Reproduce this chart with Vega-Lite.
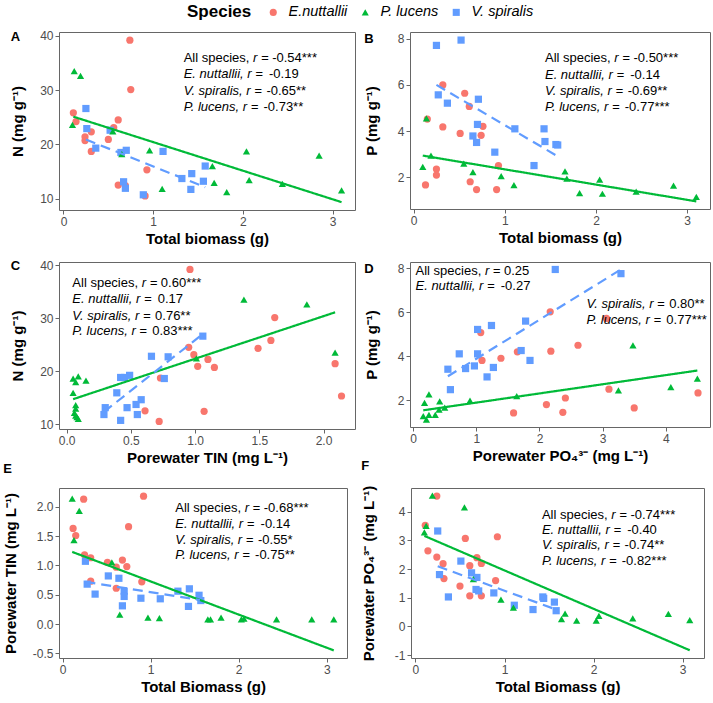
{
"$schema": "https://vega.github.io/schema/vega-lite/v6.json",
"background": "white",
"padding": {"left": 2, "top": 5, "right": 3, "bottom": 5},
"config": {
  "font": "Liberation Sans",
  "locale": {"number": {"decimal": ".", "thousands": ",", "grouping": [3], "currency": ["$", ""], "minus": "-"}},
  "view": {"stroke": "#666666", "strokeWidth": 1},
  "axis": {"grid": false, "domain": false, "tickColor": "#666666", "tickSize": 4, "tickWidth": 1, "labelColor": "#4d4d4d", "labelFontSize": 12, "labelPadding": 2, "labelFlush": false, "labelOverlap": false, "titleFontSize": 15, "titleFontWeight": "bold", "titleColor": "#000000"},
  "axisX": {"titlePadding": 4},
  "axisY": {"titlePadding": 14, "labelOverlap": false},
  "title": {"fontSize": 13, "fontWeight": "bold", "color": "#000000", "anchor": "start", "frame": "bounds"}
},
"datasets": {
"pts": [
{"p":"A","s":"E.nuttallii","x":0.74,"y":39.2},{"p":"A","s":"E.nuttallii","x":0.75,"y":30.1},{"p":"A","s":"E.nuttallii","x":0.11,"y":25.8},{"p":"A","s":"E.nuttallii","x":0.14,"y":24.2},{"p":"A","s":"E.nuttallii","x":0.61,"y":24.5},{"p":"A","s":"E.nuttallii","x":0.56,"y":23.1},{"p":"A","s":"E.nuttallii","x":0.31,"y":22.3},{"p":"A","s":"E.nuttallii","x":0.24,"y":21.4},{"p":"A","s":"E.nuttallii","x":0.24,"y":20.7},{"p":"A","s":"E.nuttallii","x":0.5,"y":20.9},{"p":"A","s":"E.nuttallii","x":0.31,"y":18.7},{"p":"A","s":"E.nuttallii","x":0.93,"y":15.3},{"p":"A","s":"E.nuttallii","x":0.61,"y":12.5},{"p":"A","s":"E.nuttallii","x":0.69,"y":12.4},{"p":"A","s":"E.nuttallii","x":0.91,"y":10.5},
{"p":"A","s":"V. spiralis","x":0.25,"y":26.6},{"p":"A","s":"V. spiralis","x":0.26,"y":22.9},{"p":"A","s":"V. spiralis","x":0.52,"y":22.6},{"p":"A","s":"V. spiralis","x":0.36,"y":19.3},{"p":"A","s":"V. spiralis","x":0.64,"y":18.5},{"p":"A","s":"V. spiralis","x":0.7,"y":18.9},{"p":"A","s":"V. spiralis","x":0.67,"y":13.1},{"p":"A","s":"V. spiralis","x":0.69,"y":11.9},{"p":"A","s":"V. spiralis","x":0.89,"y":10.7},{"p":"A","s":"V. spiralis","x":1.11,"y":18.7},{"p":"A","s":"V. spiralis","x":1.32,"y":13.7},{"p":"A","s":"V. spiralis","x":1.43,"y":14.6},{"p":"A","s":"V. spiralis","x":1.42,"y":11.7},{"p":"A","s":"V. spiralis","x":1.58,"y":16.0},{"p":"A","s":"V. spiralis","x":1.56,"y":13.2},
{"p":"A","s":"P. lucens","x":0.12,"y":33.5},{"p":"A","s":"P. lucens","x":0.19,"y":32.6},{"p":"A","s":"P. lucens","x":0.1,"y":23.6},{"p":"A","s":"P. lucens","x":0.55,"y":22.4},{"p":"A","s":"P. lucens","x":0.65,"y":18.2},{"p":"A","s":"P. lucens","x":0.96,"y":18.9},{"p":"A","s":"P. lucens","x":1.1,"y":11.8},{"p":"A","s":"P. lucens","x":1.66,"y":16.0},{"p":"A","s":"P. lucens","x":1.68,"y":12.9},{"p":"A","s":"P. lucens","x":1.82,"y":11.2},{"p":"A","s":"P. lucens","x":2.04,"y":18.7},{"p":"A","s":"P. lucens","x":2.07,"y":13.4},{"p":"A","s":"P. lucens","x":2.44,"y":12.7},{"p":"A","s":"P. lucens","x":2.85,"y":17.9},{"p":"A","s":"P. lucens","x":3.1,"y":11.5},
{"p":"B","s":"E.nuttallii","x":0.15,"y":4.52},{"p":"B","s":"E.nuttallii","x":0.32,"y":6.0},{"p":"B","s":"E.nuttallii","x":0.32,"y":4.18},{"p":"B","s":"E.nuttallii","x":0.56,"y":5.64},{"p":"B","s":"E.nuttallii","x":0.61,"y":5.07},{"p":"B","s":"E.nuttallii","x":0.51,"y":3.9},{"p":"B","s":"E.nuttallii","x":0.76,"y":4.21},{"p":"B","s":"E.nuttallii","x":0.74,"y":3.82},{"p":"B","s":"E.nuttallii","x":0.25,"y":2.36},{"p":"B","s":"E.nuttallii","x":0.25,"y":2.1},{"p":"B","s":"E.nuttallii","x":0.13,"y":1.67},{"p":"B","s":"E.nuttallii","x":0.62,"y":1.81},{"p":"B","s":"E.nuttallii","x":0.69,"y":1.47},{"p":"B","s":"E.nuttallii","x":0.91,"y":1.47},{"p":"B","s":"E.nuttallii","x":0.93,"y":2.51},
{"p":"B","s":"V. spiralis","x":0.25,"y":7.71},{"p":"B","s":"V. spiralis","x":0.52,"y":7.94},{"p":"B","s":"V. spiralis","x":0.27,"y":5.57},{"p":"B","s":"V. spiralis","x":0.37,"y":5.21},{"p":"B","s":"V. spiralis","x":0.71,"y":5.38},{"p":"B","s":"V. spiralis","x":0.7,"y":4.29},{"p":"B","s":"V. spiralis","x":0.65,"y":3.79},{"p":"B","s":"V. spiralis","x":0.69,"y":3.51},{"p":"B","s":"V. spiralis","x":0.89,"y":3.09},{"p":"B","s":"V. spiralis","x":1.11,"y":4.1},{"p":"B","s":"V. spiralis","x":1.43,"y":4.1},{"p":"B","s":"V. spiralis","x":1.44,"y":3.55},{"p":"B","s":"V. spiralis","x":1.56,"y":3.42},{"p":"B","s":"V. spiralis","x":1.58,"y":3.4},{"p":"B","s":"V. spiralis","x":1.32,"y":2.51},
{"p":"B","s":"P. lucens","x":0.14,"y":4.55},{"p":"B","s":"P. lucens","x":0.1,"y":2.45},{"p":"B","s":"P. lucens","x":0.19,"y":2.94},{"p":"B","s":"P. lucens","x":0.55,"y":2.59},{"p":"B","s":"P. lucens","x":0.65,"y":2.23},{"p":"B","s":"P. lucens","x":0.96,"y":2.05},{"p":"B","s":"P. lucens","x":1.1,"y":1.66},{"p":"B","s":"P. lucens","x":1.66,"y":2.26},{"p":"B","s":"P. lucens","x":1.68,"y":1.94},{"p":"B","s":"P. lucens","x":1.82,"y":1.32},{"p":"B","s":"P. lucens","x":2.04,"y":1.9},{"p":"B","s":"P. lucens","x":2.07,"y":1.29},{"p":"B","s":"P. lucens","x":2.44,"y":1.38},{"p":"B","s":"P. lucens","x":2.85,"y":1.64},{"p":"B","s":"P. lucens","x":3.1,"y":1.15},
{"p":"C","s":"E.nuttallii","x":0.96,"y":39.2},{"p":"C","s":"E.nuttallii","x":1.62,"y":30.1},{"p":"C","s":"E.nuttallii","x":1.59,"y":25.8},{"p":"C","s":"E.nuttallii","x":1.49,"y":24.3},{"p":"C","s":"E.nuttallii","x":0.95,"y":24.5},{"p":"C","s":"E.nuttallii","x":0.99,"y":23.1},{"p":"C","s":"E.nuttallii","x":1.1,"y":22.2},{"p":"C","s":"E.nuttallii","x":1.02,"y":20.9},{"p":"C","s":"E.nuttallii","x":1.15,"y":20.7},{"p":"C","s":"E.nuttallii","x":0.73,"y":18.7},{"p":"C","s":"E.nuttallii","x":2.09,"y":21.4},{"p":"C","s":"E.nuttallii","x":2.14,"y":15.3},{"p":"C","s":"E.nuttallii","x":0.61,"y":12.5},{"p":"C","s":"E.nuttallii","x":1.07,"y":12.4},{"p":"C","s":"E.nuttallii","x":0.72,"y":10.5},
{"p":"C","s":"V. spiralis","x":1.06,"y":26.6},{"p":"C","s":"V. spiralis","x":0.66,"y":22.8},{"p":"C","s":"V. spiralis","x":0.79,"y":22.7},{"p":"C","s":"V. spiralis","x":0.42,"y":18.8},{"p":"C","s":"V. spiralis","x":0.45,"y":18.8},{"p":"C","s":"V. spiralis","x":0.49,"y":19.2},{"p":"C","s":"V. spiralis","x":0.76,"y":18.6},{"p":"C","s":"V. spiralis","x":0.39,"y":15.9},{"p":"C","s":"V. spiralis","x":0.58,"y":14.6},{"p":"C","s":"V. spiralis","x":0.54,"y":13.7},{"p":"C","s":"V. spiralis","x":0.47,"y":13.1},{"p":"C","s":"V. spiralis","x":0.3,"y":13.1},{"p":"C","s":"V. spiralis","x":0.29,"y":11.8},{"p":"C","s":"V. spiralis","x":0.55,"y":11.8},{"p":"C","s":"V. spiralis","x":0.42,"y":10.7},
{"p":"C","s":"P. lucens","x":1.38,"y":33.5},{"p":"C","s":"P. lucens","x":1.87,"y":32.6},{"p":"C","s":"P. lucens","x":2.09,"y":23.5},{"p":"C","s":"P. lucens","x":1.01,"y":22.4},{"p":"C","s":"P. lucens","x":0.05,"y":18.6},{"p":"C","s":"P. lucens","x":0.09,"y":19.0},{"p":"C","s":"P. lucens","x":0.07,"y":17.9},{"p":"C","s":"P. lucens","x":0.15,"y":18.2},{"p":"C","s":"P. lucens","x":0.05,"y":15.9},{"p":"C","s":"P. lucens","x":0.07,"y":13.6},{"p":"C","s":"P. lucens","x":0.07,"y":12.9},{"p":"C","s":"P. lucens","x":0.06,"y":12.1},{"p":"C","s":"P. lucens","x":0.07,"y":11.6},{"p":"C","s":"P. lucens","x":0.08,"y":11.3},{"p":"C","s":"P. lucens","x":0.09,"y":11.0},
{"p":"D","s":"E.nuttallii","x":2.17,"y":6.02},{"p":"D","s":"E.nuttallii","x":3.06,"y":5.72},{"p":"D","s":"E.nuttallii","x":1.07,"y":5.08},{"p":"D","s":"E.nuttallii","x":2.18,"y":4.23},{"p":"D","s":"E.nuttallii","x":2.61,"y":4.5},{"p":"D","s":"E.nuttallii","x":1.65,"y":4.2},{"p":"D","s":"E.nuttallii","x":1.39,"y":3.91},{"p":"D","s":"E.nuttallii","x":1.09,"y":3.81},{"p":"D","s":"E.nuttallii","x":3.1,"y":2.5},{"p":"D","s":"E.nuttallii","x":4.51,"y":2.33},{"p":"D","s":"E.nuttallii","x":2.11,"y":1.8},{"p":"D","s":"E.nuttallii","x":2.41,"y":2.1},{"p":"D","s":"E.nuttallii","x":2.37,"y":1.45},{"p":"D","s":"E.nuttallii","x":1.59,"y":1.42},{"p":"D","s":"E.nuttallii","x":3.5,"y":1.65},
{"p":"D","s":"V. spiralis","x":2.25,"y":7.95},{"p":"D","s":"V. spiralis","x":3.29,"y":7.76},{"p":"D","s":"V. spiralis","x":1.78,"y":5.6},{"p":"D","s":"V. spiralis","x":1.24,"y":5.4},{"p":"D","s":"V. spiralis","x":1.02,"y":5.22},{"p":"D","s":"V. spiralis","x":1.71,"y":4.26},{"p":"D","s":"V. spiralis","x":1.85,"y":3.81},{"p":"D","s":"V. spiralis","x":0.73,"y":4.11},{"p":"D","s":"V. spiralis","x":1.02,"y":4.11},{"p":"D","s":"V. spiralis","x":0.55,"y":3.41},{"p":"D","s":"V. spiralis","x":0.83,"y":3.44},{"p":"D","s":"V. spiralis","x":0.97,"y":3.56},{"p":"D","s":"V. spiralis","x":1.27,"y":3.49},{"p":"D","s":"V. spiralis","x":1.17,"y":3.06},{"p":"D","s":"V. spiralis","x":0.59,"y":2.48},
{"p":"D","s":"P. lucens","x":3.48,"y":4.5},{"p":"D","s":"P. lucens","x":4.08,"y":2.59},{"p":"D","s":"P. lucens","x":4.5,"y":2.98},{"p":"D","s":"P. lucens","x":3.25,"y":2.45},{"p":"D","s":"P. lucens","x":1.64,"y":2.18},{"p":"D","s":"P. lucens","x":0.9,"y":1.98},{"p":"D","s":"P. lucens","x":0.5,"y":1.66},{"p":"D","s":"P. lucens","x":0.25,"y":2.26},{"p":"D","s":"P. lucens","x":0.18,"y":1.88},{"p":"D","s":"P. lucens","x":0.42,"y":1.95},{"p":"D","s":"P. lucens","x":0.41,"y":1.57},{"p":"D","s":"P. lucens","x":0.35,"y":1.33},{"p":"D","s":"P. lucens","x":0.25,"y":1.33},{"p":"D","s":"P. lucens","x":0.16,"y":1.27},{"p":"D","s":"P. lucens","x":0.21,"y":1.12},
{"p":"E","s":"E.nuttallii","x":0.92,"y":2.18},{"p":"E","s":"E.nuttallii","x":0.24,"y":2.13},{"p":"E","s":"E.nuttallii","x":0.12,"y":1.63},{"p":"E","s":"E.nuttallii","x":0.15,"y":1.51},{"p":"E","s":"E.nuttallii","x":0.75,"y":1.66},{"p":"E","s":"E.nuttallii","x":0.25,"y":1.18},{"p":"E","s":"E.nuttallii","x":0.32,"y":1.13},{"p":"E","s":"E.nuttallii","x":0.51,"y":1.05},{"p":"E","s":"E.nuttallii","x":0.68,"y":1.09},{"p":"E","s":"E.nuttallii","x":0.73,"y":0.98},{"p":"E","s":"E.nuttallii","x":0.61,"y":0.97},{"p":"E","s":"E.nuttallii","x":0.32,"y":0.73},{"p":"E","s":"E.nuttallii","x":0.9,"y":0.72},{"p":"E","s":"E.nuttallii","x":0.61,"y":0.61},
{"p":"E","s":"V. spiralis","x":0.26,"y":1.07},{"p":"E","s":"V. spiralis","x":0.28,"y":0.68},{"p":"E","s":"V. spiralis","x":0.37,"y":0.51},{"p":"E","s":"V. spiralis","x":0.52,"y":0.82},{"p":"E","s":"V. spiralis","x":0.64,"y":0.78},{"p":"E","s":"V. spiralis","x":0.7,"y":0.56},{"p":"E","s":"V. spiralis","x":0.7,"y":0.47},{"p":"E","s":"V. spiralis","x":0.68,"y":0.31},{"p":"E","s":"V. spiralis","x":0.89,"y":0.44},{"p":"E","s":"V. spiralis","x":1.11,"y":0.43},{"p":"E","s":"V. spiralis","x":1.31,"y":0.56},{"p":"E","s":"V. spiralis","x":1.44,"y":0.6},{"p":"E","s":"V. spiralis","x":1.43,"y":0.3},{"p":"E","s":"V. spiralis","x":1.55,"y":0.49},{"p":"E","s":"V. spiralis","x":1.57,"y":0.4},
{"p":"E","s":"P. lucens","x":0.11,"y":2.14},{"p":"E","s":"P. lucens","x":0.19,"y":1.93},{"p":"E","s":"P. lucens","x":0.13,"y":1.43},{"p":"E","s":"P. lucens","x":0.56,"y":1.05},{"p":"E","s":"P. lucens","x":0.65,"y":0.16},{"p":"E","s":"P. lucens","x":0.97,"y":0.11},{"p":"E","s":"P. lucens","x":1.1,"y":0.1},{"p":"E","s":"P. lucens","x":1.65,"y":0.08},{"p":"E","s":"P. lucens","x":1.68,"y":0.08},{"p":"E","s":"P. lucens","x":1.8,"y":0.11},{"p":"E","s":"P. lucens","x":2.03,"y":0.08},{"p":"E","s":"P. lucens","x":2.06,"y":0.09},{"p":"E","s":"P. lucens","x":2.43,"y":0.08},{"p":"E","s":"P. lucens","x":2.83,"y":0.08},{"p":"E","s":"P. lucens","x":3.08,"y":0.08},
{"p":"F","s":"E.nuttallii","x":0.24,"y":4.55},{"p":"F","s":"E.nuttallii","x":0.11,"y":3.53},{"p":"F","s":"E.nuttallii","x":0.14,"y":2.64},{"p":"F","s":"E.nuttallii","x":0.56,"y":3.07},{"p":"F","s":"E.nuttallii","x":0.92,"y":3.13},{"p":"F","s":"E.nuttallii","x":0.24,"y":2.42},{"p":"F","s":"E.nuttallii","x":0.31,"y":2.19},{"p":"F","s":"E.nuttallii","x":0.69,"y":2.4},{"p":"F","s":"E.nuttallii","x":0.61,"y":2.12},{"p":"F","s":"E.nuttallii","x":0.74,"y":2.2},{"p":"F","s":"E.nuttallii","x":0.32,"y":1.67},{"p":"F","s":"E.nuttallii","x":0.9,"y":1.6},{"p":"F","s":"E.nuttallii","x":0.5,"y":1.41},{"p":"F","s":"E.nuttallii","x":0.61,"y":1.07},{"p":"F","s":"E.nuttallii","x":0.74,"y":1.07},
{"p":"F","s":"V. spiralis","x":0.25,"y":3.33},{"p":"F","s":"V. spiralis","x":0.27,"y":1.81},{"p":"F","s":"V. spiralis","x":0.37,"y":1.03},{"p":"F","s":"V. spiralis","x":0.51,"y":2.28},{"p":"F","s":"V. spiralis","x":0.63,"y":1.87},{"p":"F","s":"V. spiralis","x":0.69,"y":1.71},{"p":"F","s":"V. spiralis","x":0.68,"y":1.29},{"p":"F","s":"V. spiralis","x":0.71,"y":1.24},{"p":"F","s":"V. spiralis","x":0.88,"y":1.17},{"p":"F","s":"V. spiralis","x":1.11,"y":0.74},{"p":"F","s":"V. spiralis","x":1.32,"y":0.59},{"p":"F","s":"V. spiralis","x":1.43,"y":1.03},{"p":"F","s":"V. spiralis","x":1.44,"y":0.98},{"p":"F","s":"V. spiralis","x":1.56,"y":0.85},{"p":"F","s":"V. spiralis","x":1.58,"y":0.55},
{"p":"F","s":"P. lucens","x":0.19,"y":4.56},{"p":"F","s":"P. lucens","x":0.55,"y":4.15},{"p":"F","s":"P. lucens","x":0.12,"y":3.51},{"p":"F","s":"P. lucens","x":0.1,"y":3.28},{"p":"F","s":"P. lucens","x":0.65,"y":1.65},{"p":"F","s":"P. lucens","x":0.96,"y":0.94},{"p":"F","s":"P. lucens","x":1.1,"y":0.66},{"p":"F","s":"P. lucens","x":1.64,"y":0.26},{"p":"F","s":"P. lucens","x":1.68,"y":0.45},{"p":"F","s":"P. lucens","x":1.81,"y":0.2},{"p":"F","s":"P. lucens","x":2.03,"y":0.2},{"p":"F","s":"P. lucens","x":2.06,"y":0.37},{"p":"F","s":"P. lucens","x":2.44,"y":0.28},{"p":"F","s":"P. lucens","x":2.84,"y":0.44},{"p":"F","s":"P. lucens","x":3.08,"y":0.22}
],
"fit": [
{"p":"A","s":"P. lucens","x":0.11,"y":25.1},{"p":"A","s":"P. lucens","x":3.1,"y":9.35},{"p":"A","s":"V. spiralis","x":0.25,"y":20.9},{"p":"A","s":"V. spiralis","x":1.58,"y":12.1},
{"p":"B","s":"P. lucens","x":0.1,"y":2.94},{"p":"B","s":"P. lucens","x":3.1,"y":0.96},{"p":"B","s":"V. spiralis","x":0.25,"y":6.0},{"p":"B","s":"V. spiralis","x":1.58,"y":2.91},
{"p":"C","s":"P. lucens","x":0.05,"y":14.7},{"p":"C","s":"P. lucens","x":2.09,"y":31.1},{"p":"C","s":"V. spiralis","x":0.29,"y":12.3},{"p":"C","s":"V. spiralis","x":1.06,"y":27.0},
{"p":"D","s":"P. lucens","x":0.16,"y":1.54},{"p":"D","s":"P. lucens","x":4.5,"y":3.35},{"p":"D","s":"V. spiralis","x":0.55,"y":3.09},{"p":"D","s":"V. spiralis","x":3.29,"y":7.95},
{"p":"E","s":"P. lucens","x":0.11,"y":1.23},{"p":"E","s":"P. lucens","x":3.08,"y":-0.45},{"p":"E","s":"V. spiralis","x":0.26,"y":0.72},{"p":"E","s":"V. spiralis","x":1.56,"y":0.41},
{"p":"F","s":"P. lucens","x":0.1,"y":3.16},{"p":"F","s":"P. lucens","x":3.08,"y":-0.83},{"p":"F","s":"V. spiralis","x":0.25,"y":2.1},{"p":"F","s":"V. spiralis","x":1.58,"y":0.59}
],
"ann": [
{"p":"A","k":0,"lab":"All species,","r":"-0.54***"},{"p":"A","k":1,"lab":"E. nuttallii, r =","r":"-0.19"},{"p":"A","k":2,"lab":"V. spiralis, r =","r":"-0.65**"},{"p":"A","k":3,"lab":"P. lucens, r =","r":"-0.73**"},
{"p":"B","k":0,"lab":"All species,","r":"-0.50***"},{"p":"B","k":1,"lab":"E. nuttallii, r =","r":"-0.14"},{"p":"B","k":2,"lab":"V. spiralis, r =","r":"-0.69**"},{"p":"B","k":3,"lab":"P. lucens, r =","r":"-0.77***"},
{"p":"C","k":0,"lab":"All species,","r":"0.60***"},{"p":"C","k":1,"lab":"E. nuttallii, r =","r":"0.17"},{"p":"C","k":2,"lab":"V. spiralis, r =","r":"0.76**"},{"p":"C","k":3,"lab":"P. lucens, r =","r":"0.83***"},
{"p":"D","k":0,"lab":"All species,","r":"0.25"},{"p":"D","k":1,"lab":"E. nuttallii, r =","r":"-0.27"},{"p":"D","k":2,"lab":"V. spiralis, r =","r":"0.80**"},{"p":"D","k":3,"lab":"P. lucens, r =","r":"0.77***"},
{"p":"E","k":0,"lab":"All species,","r":"-0.68***"},{"p":"E","k":1,"lab":"E. nuttallii, r =","r":"-0.14"},{"p":"E","k":2,"lab":"V. spiralis, r =","r":"-0.55*"},{"p":"E","k":3,"lab":"P. lucens, r =","r":"-0.75**"},
{"p":"F","k":0,"lab":"All species,","r":"-0.74***"},{"p":"F","k":1,"lab":"E. nuttallii, r =","r":"-0.40"},{"p":"F","k":2,"lab":"V. spiralis, r =","r":"-0.74**"},{"p":"F","k":3,"lab":"P. lucens, r =","r":"-0.82***"}
]
},
"vconcat": [
{"hconcat": [
{"width": 296, "height": 178, "title": {"text": "A", "offset": -14},
 "layer": [
  {"data": {"name": "pts"}, "transform": [{"filter": "datum.p === 'A'"}], "mark": {"type": "point", "filled": true, "opacity": 1, "size": 52, "strokeWidth": 0},
   "encoding": {"x": {"field": "x", "type": "quantitative", "scale": {"domain": [-0.05, 3.25], "nice": false, "zero": false}, "axis": {"values": [0,1,2,3], "format": "d", "labelOverlap": false, "title": "Total biomass (g)"}},
    "y": {"field": "y", "type": "quantitative", "scale": {"domain": [7.9, 40.7], "nice": false, "zero": false}, "axis": {"values": [10,20,30,40], "format": "d", "labelOverlap": false, "title": "N (mg g⁻¹)"}},
    "color": {"field": "s", "type": "nominal", "scale": {"domain": ["E.nuttallii","P. lucens","V. spiralis"], "range": ["#F8766D","#00BA38","#619CFF"]}, "legend": {"orient": "none", "legendX": 128, "legendY": -27, "direction": "horizontal", "title": "Species", "titleOrient": "left", "titleFontSize": 17, "titleFontWeight": "bold", "titleColor": "#000000", "titlePadding": 14, "labelFontSize": 14.5, "labelFontStyle": "italic", "labelColor": "#000000", "symbolSize": 50, "labelOffset": 8, "columnPadding": 10, "symbolStrokeWidth": 0}},
    "shape": {"field": "s", "type": "nominal", "scale": {"domain": ["E.nuttallii","P. lucens","V. spiralis"], "range": ["circle","triangle-up","square"]}, "legend": {"orient": "none", "legendX": 128, "legendY": -27, "direction": "horizontal", "title": "Species", "titleOrient": "left", "titleFontSize": 17, "titleFontWeight": "bold", "titleColor": "#000000", "titlePadding": 14, "labelFontSize": 14.5, "labelFontStyle": "italic", "labelColor": "#000000", "symbolSize": 50, "labelOffset": 8, "columnPadding": 10, "symbolStrokeWidth": 0}}}},
  {"data": {"name": "fit"}, "transform": [{"filter": "datum.p === 'A'"}], "mark": {"type": "line", "strokeWidth": 2.2},
   "encoding": {"x": {"field": "x", "type": "quantitative"}, "y": {"field": "y", "type": "quantitative"}, "color": {"field": "s", "type": "nominal", "legend": null}, "strokeDash": {"field": "s", "type": "nominal", "scale": {"domain": ["P. lucens","V. spiralis"], "range": [[1,0],[10,6]]}, "legend": null}}},
  {"data": {"name": "ann"}, "transform": [{"filter": "datum.p === 'A' && datum.k === 0"}], "mark": {"type": "text", "font": "Liberation Sans", "fontSize": 13, "align": "left", "baseline": "middle", "color": "#000000"}, "encoding": {"x": {"datum": 1.34, "type": "quantitative"}, "y": {"datum": 36.0, "type": "quantitative"}, "text": {"field": "lab"}}},
  {"data": {"name": "ann"}, "transform": [{"filter": "datum.p === 'A' && datum.k === 0"}], "mark": {"type": "text", "font": "Liberation Sans", "fontSize": 13, "align": "left", "baseline": "middle", "color": "#000000", "fontStyle": "italic", "dx": 69.4}, "encoding": {"x": {"datum": 1.34, "type": "quantitative"}, "y": {"datum": 36.0, "type": "quantitative"}, "text": {"value": "r ="}}},
  {"data": {"name": "ann"}, "transform": [{"filter": "datum.p === 'A' && datum.k === 0"}], "mark": {"type": "text", "font": "Liberation Sans", "fontSize": 13, "align": "left", "baseline": "middle", "color": "#000000", "dx": 88.5}, "encoding": {"x": {"datum": 1.34, "type": "quantitative"}, "y": {"datum": 36.0, "type": "quantitative"}, "text": {"field": "r"}}},
  {"data": {"name": "ann"}, "transform": [{"filter": "datum.p === 'A' && datum.k === 1"}], "mark": {"type": "text", "font": "Liberation Sans", "fontSize": 13, "align": "left", "baseline": "middle", "color": "#000000", "fontStyle": "italic"}, "encoding": {"x": {"datum": 1.34, "type": "quantitative"}, "y": {"datum": 32.9, "type": "quantitative"}, "text": {"field": "lab"}}},
  {"data": {"name": "ann"}, "transform": [{"filter": "datum.p === 'A' && datum.k === 1"}], "mark": {"type": "text", "font": "Liberation Sans", "fontSize": 13, "align": "left", "baseline": "middle", "color": "#000000", "dx": 85.3}, "encoding": {"x": {"datum": 1.34, "type": "quantitative"}, "y": {"datum": 32.9, "type": "quantitative"}, "text": {"field": "r"}}},
  {"data": {"name": "ann"}, "transform": [{"filter": "datum.p === 'A' && datum.k === 2"}], "mark": {"type": "text", "font": "Liberation Sans", "fontSize": 13, "align": "left", "baseline": "middle", "color": "#000000", "fontStyle": "italic"}, "encoding": {"x": {"datum": 1.34, "type": "quantitative"}, "y": {"datum": 29.8, "type": "quantitative"}, "text": {"field": "lab"}}},
  {"data": {"name": "ann"}, "transform": [{"filter": "datum.p === 'A' && datum.k === 2"}], "mark": {"type": "text", "font": "Liberation Sans", "fontSize": 13, "align": "left", "baseline": "middle", "color": "#000000", "dx": 82.7}, "encoding": {"x": {"datum": 1.34, "type": "quantitative"}, "y": {"datum": 29.8, "type": "quantitative"}, "text": {"field": "r"}}},
  {"data": {"name": "ann"}, "transform": [{"filter": "datum.p === 'A' && datum.k === 3"}], "mark": {"type": "text", "font": "Liberation Sans", "fontSize": 13, "align": "left", "baseline": "middle", "color": "#000000", "fontStyle": "italic"}, "encoding": {"x": {"datum": 1.34, "type": "quantitative"}, "y": {"datum": 26.8, "type": "quantitative"}, "text": {"field": "lab"}}},
  {"data": {"name": "ann"}, "transform": [{"filter": "datum.p === 'A' && datum.k === 3"}], "mark": {"type": "text", "font": "Liberation Sans", "fontSize": 13, "align": "left", "baseline": "middle", "color": "#000000", "dx": 79.8}, "encoding": {"x": {"datum": 1.34, "type": "quantitative"}, "y": {"datum": 26.8, "type": "quantitative"}, "text": {"field": "r"}}}
 ]},
{"width": 300, "height": 177, "title": {"text": "B", "offset": -14},
 "layer": [
  {"data": {"name": "pts"}, "transform": [{"filter": "datum.p === 'B'"}], "mark": {"type": "point", "filled": true, "opacity": 1, "size": 52, "strokeWidth": 0},
   "encoding": {"x": {"field": "x", "type": "quantitative", "scale": {"domain": [-0.04, 3.25], "nice": false, "zero": false}, "axis": {"values": [0,1,2,3], "format": "d", "labelOverlap": false, "title": "Total biomass (g)"}},
    "y": {"field": "y", "type": "quantitative", "scale": {"domain": [0.63, 8.29], "nice": false, "zero": false}, "axis": {"values": [2,4,6,8], "format": "d", "labelOverlap": false, "title": "P (mg g⁻¹)", "titlePadding": 18}},
    "color": {"field": "s", "type": "nominal", "legend": {"orient": "none", "legendX": 128, "legendY": -27, "direction": "horizontal", "title": "Species", "titleOrient": "left", "titleFontSize": 17, "titleFontWeight": "bold", "titleColor": "#000000", "titlePadding": 14, "labelFontSize": 14.5, "labelFontStyle": "italic", "labelColor": "#000000", "symbolSize": 50, "labelOffset": 8, "columnPadding": 10, "symbolStrokeWidth": 0}},
    "shape": {"field": "s", "type": "nominal", "legend": {"orient": "none", "legendX": 128, "legendY": -27, "direction": "horizontal", "title": "Species", "titleOrient": "left", "titleFontSize": 17, "titleFontWeight": "bold", "titleColor": "#000000", "titlePadding": 14, "labelFontSize": 14.5, "labelFontStyle": "italic", "labelColor": "#000000", "symbolSize": 50, "labelOffset": 8, "columnPadding": 10, "symbolStrokeWidth": 0}}}},
  {"data": {"name": "fit"}, "transform": [{"filter": "datum.p === 'B'"}], "mark": {"type": "line", "strokeWidth": 2.2},
   "encoding": {"x": {"field": "x", "type": "quantitative"}, "y": {"field": "y", "type": "quantitative"}, "color": {"field": "s", "type": "nominal", "legend": null}, "strokeDash": {"field": "s", "type": "nominal", "legend": null}}},
  {"data": {"name": "ann"}, "transform": [{"filter": "datum.p === 'B' && datum.k === 0"}], "mark": {"type": "text", "font": "Liberation Sans", "fontSize": 13, "align": "left", "baseline": "middle", "color": "#000000"}, "encoding": {"x": {"datum": 1.44, "type": "quantitative"}, "y": {"datum": 7.18, "type": "quantitative"}, "text": {"field": "lab"}}},
  {"data": {"name": "ann"}, "transform": [{"filter": "datum.p === 'B' && datum.k === 0"}], "mark": {"type": "text", "font": "Liberation Sans", "fontSize": 13, "align": "left", "baseline": "middle", "color": "#000000", "fontStyle": "italic", "dx": 69.4}, "encoding": {"x": {"datum": 1.44, "type": "quantitative"}, "y": {"datum": 7.18, "type": "quantitative"}, "text": {"value": "r ="}}},
  {"data": {"name": "ann"}, "transform": [{"filter": "datum.p === 'B' && datum.k === 0"}], "mark": {"type": "text", "font": "Liberation Sans", "fontSize": 13, "align": "left", "baseline": "middle", "color": "#000000", "dx": 88.5}, "encoding": {"x": {"datum": 1.44, "type": "quantitative"}, "y": {"datum": 7.18, "type": "quantitative"}, "text": {"field": "r"}}},
  {"data": {"name": "ann"}, "transform": [{"filter": "datum.p === 'B' && datum.k === 1"}], "mark": {"type": "text", "font": "Liberation Sans", "fontSize": 13, "align": "left", "baseline": "middle", "color": "#000000", "fontStyle": "italic"}, "encoding": {"x": {"datum": 1.44, "type": "quantitative"}, "y": {"datum": 6.45, "type": "quantitative"}, "text": {"field": "lab"}}},
  {"data": {"name": "ann"}, "transform": [{"filter": "datum.p === 'B' && datum.k === 1"}], "mark": {"type": "text", "font": "Liberation Sans", "fontSize": 13, "align": "left", "baseline": "middle", "color": "#000000", "dx": 85.3}, "encoding": {"x": {"datum": 1.44, "type": "quantitative"}, "y": {"datum": 6.45, "type": "quantitative"}, "text": {"field": "r"}}},
  {"data": {"name": "ann"}, "transform": [{"filter": "datum.p === 'B' && datum.k === 2"}], "mark": {"type": "text", "font": "Liberation Sans", "fontSize": 13, "align": "left", "baseline": "middle", "color": "#000000", "fontStyle": "italic"}, "encoding": {"x": {"datum": 1.44, "type": "quantitative"}, "y": {"datum": 5.73, "type": "quantitative"}, "text": {"field": "lab"}}},
  {"data": {"name": "ann"}, "transform": [{"filter": "datum.p === 'B' && datum.k === 2"}], "mark": {"type": "text", "font": "Liberation Sans", "fontSize": 13, "align": "left", "baseline": "middle", "color": "#000000", "dx": 82.7}, "encoding": {"x": {"datum": 1.44, "type": "quantitative"}, "y": {"datum": 5.73, "type": "quantitative"}, "text": {"field": "r"}}},
  {"data": {"name": "ann"}, "transform": [{"filter": "datum.p === 'B' && datum.k === 3"}], "mark": {"type": "text", "font": "Liberation Sans", "fontSize": 13, "align": "left", "baseline": "middle", "color": "#000000", "fontStyle": "italic"}, "encoding": {"x": {"datum": 1.44, "type": "quantitative"}, "y": {"datum": 5.05, "type": "quantitative"}, "text": {"field": "lab"}}},
  {"data": {"name": "ann"}, "transform": [{"filter": "datum.p === 'B' && datum.k === 3"}], "mark": {"type": "text", "font": "Liberation Sans", "fontSize": 13, "align": "left", "baseline": "middle", "color": "#000000", "dx": 79.8}, "encoding": {"x": {"datum": 1.44, "type": "quantitative"}, "y": {"datum": 5.05, "type": "quantitative"}, "text": {"field": "r"}}}
 ]}
], "spacing": 7},
{"vconcat": [
{"hconcat": [
{"width": 296, "height": 167, "title": {"text": "C", "offset": -14},
 "layer": [
  {"data": {"name": "pts"}, "transform": [{"filter": "datum.p === 'C'"}], "mark": {"type": "point", "filled": true, "opacity": 1, "size": 52, "strokeWidth": 0},
   "encoding": {"x": {"field": "x", "type": "quantitative", "scale": {"domain": [-0.06, 2.245], "nice": false, "zero": false}, "axis": {"values": [0,0.5,1,1.5,2], "format": ".1f", "labelOverlap": false, "title": "Porewater TIN (mg L⁻¹)"}},
    "y": {"field": "y", "type": "quantitative", "scale": {"domain": [9.07, 40.6], "nice": false, "zero": false}, "axis": {"values": [10,20,30,40], "format": "d", "labelOverlap": false, "title": "N (mg g⁻¹)"}},
    "color": {"field": "s", "type": "nominal", "legend": {"orient": "none", "legendX": 128, "legendY": -27, "direction": "horizontal", "title": "Species", "titleOrient": "left", "titleFontSize": 17, "titleFontWeight": "bold", "titleColor": "#000000", "titlePadding": 14, "labelFontSize": 14.5, "labelFontStyle": "italic", "labelColor": "#000000", "symbolSize": 50, "labelOffset": 8, "columnPadding": 10, "symbolStrokeWidth": 0}},
    "shape": {"field": "s", "type": "nominal", "legend": {"orient": "none", "legendX": 128, "legendY": -27, "direction": "horizontal", "title": "Species", "titleOrient": "left", "titleFontSize": 17, "titleFontWeight": "bold", "titleColor": "#000000", "titlePadding": 14, "labelFontSize": 14.5, "labelFontStyle": "italic", "labelColor": "#000000", "symbolSize": 50, "labelOffset": 8, "columnPadding": 10, "symbolStrokeWidth": 0}}}},
  {"data": {"name": "fit"}, "transform": [{"filter": "datum.p === 'C'"}], "mark": {"type": "line", "strokeWidth": 2.2},
   "encoding": {"x": {"field": "x", "type": "quantitative"}, "y": {"field": "y", "type": "quantitative"}, "color": {"field": "s", "type": "nominal", "legend": null}, "strokeDash": {"field": "s", "type": "nominal", "legend": null}}},
  {"data": {"name": "ann"}, "transform": [{"filter": "datum.p === 'C' && datum.k === 0"}], "mark": {"type": "text", "font": "Liberation Sans", "fontSize": 13, "align": "left", "baseline": "middle", "color": "#000000"}, "encoding": {"x": {"datum": 0.044, "type": "quantitative"}, "y": {"datum": 36.7, "type": "quantitative"}, "text": {"field": "lab"}}},
  {"data": {"name": "ann"}, "transform": [{"filter": "datum.p === 'C' && datum.k === 0"}], "mark": {"type": "text", "font": "Liberation Sans", "fontSize": 13, "align": "left", "baseline": "middle", "color": "#000000", "fontStyle": "italic", "dx": 69.4}, "encoding": {"x": {"datum": 0.044, "type": "quantitative"}, "y": {"datum": 36.7, "type": "quantitative"}, "text": {"value": "r ="}}},
  {"data": {"name": "ann"}, "transform": [{"filter": "datum.p === 'C' && datum.k === 0"}], "mark": {"type": "text", "font": "Liberation Sans", "fontSize": 13, "align": "left", "baseline": "middle", "color": "#000000", "dx": 88.5}, "encoding": {"x": {"datum": 0.044, "type": "quantitative"}, "y": {"datum": 36.7, "type": "quantitative"}, "text": {"field": "r"}}},
  {"data": {"name": "ann"}, "transform": [{"filter": "datum.p === 'C' && datum.k === 1"}], "mark": {"type": "text", "font": "Liberation Sans", "fontSize": 13, "align": "left", "baseline": "middle", "color": "#000000", "fontStyle": "italic"}, "encoding": {"x": {"datum": 0.044, "type": "quantitative"}, "y": {"datum": 33.6, "type": "quantitative"}, "text": {"field": "lab"}}},
  {"data": {"name": "ann"}, "transform": [{"filter": "datum.p === 'C' && datum.k === 1"}], "mark": {"type": "text", "font": "Liberation Sans", "fontSize": 13, "align": "left", "baseline": "middle", "color": "#000000", "dx": 85.3}, "encoding": {"x": {"datum": 0.044, "type": "quantitative"}, "y": {"datum": 33.6, "type": "quantitative"}, "text": {"field": "r"}}},
  {"data": {"name": "ann"}, "transform": [{"filter": "datum.p === 'C' && datum.k === 2"}], "mark": {"type": "text", "font": "Liberation Sans", "fontSize": 13, "align": "left", "baseline": "middle", "color": "#000000", "fontStyle": "italic"}, "encoding": {"x": {"datum": 0.044, "type": "quantitative"}, "y": {"datum": 30.4, "type": "quantitative"}, "text": {"field": "lab"}}},
  {"data": {"name": "ann"}, "transform": [{"filter": "datum.p === 'C' && datum.k === 2"}], "mark": {"type": "text", "font": "Liberation Sans", "fontSize": 13, "align": "left", "baseline": "middle", "color": "#000000", "dx": 82.7}, "encoding": {"x": {"datum": 0.044, "type": "quantitative"}, "y": {"datum": 30.4, "type": "quantitative"}, "text": {"field": "r"}}},
  {"data": {"name": "ann"}, "transform": [{"filter": "datum.p === 'C' && datum.k === 3"}], "mark": {"type": "text", "font": "Liberation Sans", "fontSize": 13, "align": "left", "baseline": "middle", "color": "#000000", "fontStyle": "italic"}, "encoding": {"x": {"datum": 0.044, "type": "quantitative"}, "y": {"datum": 27.6, "type": "quantitative"}, "text": {"field": "lab"}}},
  {"data": {"name": "ann"}, "transform": [{"filter": "datum.p === 'C' && datum.k === 3"}], "mark": {"type": "text", "font": "Liberation Sans", "fontSize": 13, "align": "left", "baseline": "middle", "color": "#000000", "dx": 79.8}, "encoding": {"x": {"datum": 0.044, "type": "quantitative"}, "y": {"datum": 27.6, "type": "quantitative"}, "text": {"field": "r"}}}
 ]},
{"width": 300, "height": 165, "title": {"text": "D", "offset": -14},
 "layer": [
  {"data": {"name": "pts"}, "transform": [{"filter": "datum.p === 'D'"}], "mark": {"type": "point", "filled": true, "opacity": 1, "size": 52, "strokeWidth": 0},
   "encoding": {"x": {"field": "x", "type": "quantitative", "scale": {"domain": [-0.05, 4.7], "nice": false, "zero": false}, "axis": {"values": [0,1,2,3,4], "format": "d", "labelOverlap": false, "title": "Porewater PO₄³⁻ (mg L⁻¹)"}},
    "y": {"field": "y", "type": "quantitative", "scale": {"domain": [0.78, 8.29], "nice": false, "zero": false}, "axis": {"values": [2,4,6,8], "format": "d", "labelOverlap": false, "title": "P (mg g⁻¹)", "titlePadding": 18}},
    "color": {"field": "s", "type": "nominal", "legend": {"orient": "none", "legendX": 128, "legendY": -27, "direction": "horizontal", "title": "Species", "titleOrient": "left", "titleFontSize": 17, "titleFontWeight": "bold", "titleColor": "#000000", "titlePadding": 14, "labelFontSize": 14.5, "labelFontStyle": "italic", "labelColor": "#000000", "symbolSize": 50, "labelOffset": 8, "columnPadding": 10, "symbolStrokeWidth": 0}},
    "shape": {"field": "s", "type": "nominal", "legend": {"orient": "none", "legendX": 128, "legendY": -27, "direction": "horizontal", "title": "Species", "titleOrient": "left", "titleFontSize": 17, "titleFontWeight": "bold", "titleColor": "#000000", "titlePadding": 14, "labelFontSize": 14.5, "labelFontStyle": "italic", "labelColor": "#000000", "symbolSize": 50, "labelOffset": 8, "columnPadding": 10, "symbolStrokeWidth": 0}}}},
  {"data": {"name": "fit"}, "transform": [{"filter": "datum.p === 'D'"}], "mark": {"type": "line", "strokeWidth": 2.2},
   "encoding": {"x": {"field": "x", "type": "quantitative"}, "y": {"field": "y", "type": "quantitative"}, "color": {"field": "s", "type": "nominal", "legend": null}, "strokeDash": {"field": "s", "type": "nominal", "legend": null}}},
  {"data": {"name": "ann"}, "transform": [{"filter": "datum.p === 'D' && datum.k === 0"}], "mark": {"type": "text", "font": "Liberation Sans", "fontSize": 13, "align": "left", "baseline": "middle", "color": "#000000"}, "encoding": {"x": {"datum": 0.037, "type": "quantitative"}, "y": {"datum": 7.88, "type": "quantitative"}, "text": {"field": "lab"}}},
  {"data": {"name": "ann"}, "transform": [{"filter": "datum.p === 'D' && datum.k === 0"}], "mark": {"type": "text", "font": "Liberation Sans", "fontSize": 13, "align": "left", "baseline": "middle", "color": "#000000", "fontStyle": "italic", "dx": 69.4}, "encoding": {"x": {"datum": 0.037, "type": "quantitative"}, "y": {"datum": 7.88, "type": "quantitative"}, "text": {"value": "r ="}}},
  {"data": {"name": "ann"}, "transform": [{"filter": "datum.p === 'D' && datum.k === 0"}], "mark": {"type": "text", "font": "Liberation Sans", "fontSize": 13, "align": "left", "baseline": "middle", "color": "#000000", "dx": 88.5}, "encoding": {"x": {"datum": 0.037, "type": "quantitative"}, "y": {"datum": 7.88, "type": "quantitative"}, "text": {"field": "r"}}},
  {"data": {"name": "ann"}, "transform": [{"filter": "datum.p === 'D' && datum.k === 1"}], "mark": {"type": "text", "font": "Liberation Sans", "fontSize": 13, "align": "left", "baseline": "middle", "color": "#000000", "fontStyle": "italic"}, "encoding": {"x": {"datum": 0.037, "type": "quantitative"}, "y": {"datum": 7.19, "type": "quantitative"}, "text": {"field": "lab"}}},
  {"data": {"name": "ann"}, "transform": [{"filter": "datum.p === 'D' && datum.k === 1"}], "mark": {"type": "text", "font": "Liberation Sans", "fontSize": 13, "align": "left", "baseline": "middle", "color": "#000000", "dx": 85.3}, "encoding": {"x": {"datum": 0.037, "type": "quantitative"}, "y": {"datum": 7.19, "type": "quantitative"}, "text": {"field": "r"}}},
  {"data": {"name": "ann"}, "transform": [{"filter": "datum.p === 'D' && datum.k === 2"}], "mark": {"type": "text", "font": "Liberation Sans", "fontSize": 13, "align": "left", "baseline": "middle", "color": "#000000", "fontStyle": "italic"}, "encoding": {"x": {"datum": 2.745, "type": "quantitative"}, "y": {"datum": 6.39, "type": "quantitative"}, "text": {"field": "lab"}}},
  {"data": {"name": "ann"}, "transform": [{"filter": "datum.p === 'D' && datum.k === 2"}], "mark": {"type": "text", "font": "Liberation Sans", "fontSize": 13, "align": "left", "baseline": "middle", "color": "#000000", "dx": 82.7}, "encoding": {"x": {"datum": 2.745, "type": "quantitative"}, "y": {"datum": 6.39, "type": "quantitative"}, "text": {"field": "r"}}},
  {"data": {"name": "ann"}, "transform": [{"filter": "datum.p === 'D' && datum.k === 3"}], "mark": {"type": "text", "font": "Liberation Sans", "fontSize": 13, "align": "left", "baseline": "middle", "color": "#000000", "fontStyle": "italic"}, "encoding": {"x": {"datum": 2.745, "type": "quantitative"}, "y": {"datum": 5.63, "type": "quantitative"}, "text": {"field": "lab"}}},
  {"data": {"name": "ann"}, "transform": [{"filter": "datum.p === 'D' && datum.k === 3"}], "mark": {"type": "text", "font": "Liberation Sans", "fontSize": 13, "align": "left", "baseline": "middle", "color": "#000000", "dx": 79.8}, "encoding": {"x": {"datum": 2.745, "type": "quantitative"}, "y": {"datum": 5.63, "type": "quantitative"}, "text": {"field": "r"}}}
 ]}
], "spacing": 7},
{"hconcat": [
{"width": 288, "height": 170, "title": {"text": "E", "offset": 12},
 "layer": [
  {"data": {"name": "pts"}, "transform": [{"filter": "datum.p === 'E'"}], "mark": {"type": "point", "filled": true, "opacity": 1, "size": 52, "strokeWidth": 0},
   "encoding": {"x": {"field": "x", "type": "quantitative", "scale": {"domain": [-0.04, 3.23], "nice": false, "zero": false}, "axis": {"values": [0,1,2,3], "format": "d", "labelOverlap": false, "title": "Total Biomass (g)"}},
    "y": {"field": "y", "type": "quantitative", "scale": {"domain": [-0.58, 2.32], "nice": false, "zero": false}, "axis": {"tickCount": 6, "format": ".1f", "labelOverlap": false, "labelSeparation": 0, "labelBound": false, "title": "Porewater TIN (mg L⁻¹)"}},
    "color": {"field": "s", "type": "nominal", "legend": {"orient": "none", "legendX": 128, "legendY": -27, "direction": "horizontal", "title": "Species", "titleOrient": "left", "titleFontSize": 17, "titleFontWeight": "bold", "titleColor": "#000000", "titlePadding": 14, "labelFontSize": 14.5, "labelFontStyle": "italic", "labelColor": "#000000", "symbolSize": 50, "labelOffset": 8, "columnPadding": 10, "symbolStrokeWidth": 0}},
    "shape": {"field": "s", "type": "nominal", "legend": {"orient": "none", "legendX": 128, "legendY": -27, "direction": "horizontal", "title": "Species", "titleOrient": "left", "titleFontSize": 17, "titleFontWeight": "bold", "titleColor": "#000000", "titlePadding": 14, "labelFontSize": 14.5, "labelFontStyle": "italic", "labelColor": "#000000", "symbolSize": 50, "labelOffset": 8, "columnPadding": 10, "symbolStrokeWidth": 0}}}},
  {"data": {"name": "fit"}, "transform": [{"filter": "datum.p === 'E'"}], "mark": {"type": "line", "strokeWidth": 2.2},
   "encoding": {"x": {"field": "x", "type": "quantitative"}, "y": {"field": "y", "type": "quantitative"}, "color": {"field": "s", "type": "nominal", "legend": null}, "strokeDash": {"field": "s", "type": "nominal", "legend": null}}},
  {"data": {"name": "ann"}, "transform": [{"filter": "datum.p === 'E' && datum.k === 0"}], "mark": {"type": "text", "font": "Liberation Sans", "fontSize": 13, "align": "left", "baseline": "middle", "color": "#000000"}, "encoding": {"x": {"datum": 1.28, "type": "quantitative"}, "y": {"datum": 1.98, "type": "quantitative"}, "text": {"field": "lab"}}},
  {"data": {"name": "ann"}, "transform": [{"filter": "datum.p === 'E' && datum.k === 0"}], "mark": {"type": "text", "font": "Liberation Sans", "fontSize": 13, "align": "left", "baseline": "middle", "color": "#000000", "fontStyle": "italic", "dx": 69.4}, "encoding": {"x": {"datum": 1.28, "type": "quantitative"}, "y": {"datum": 1.98, "type": "quantitative"}, "text": {"value": "r ="}}},
  {"data": {"name": "ann"}, "transform": [{"filter": "datum.p === 'E' && datum.k === 0"}], "mark": {"type": "text", "font": "Liberation Sans", "fontSize": 13, "align": "left", "baseline": "middle", "color": "#000000", "dx": 88.5}, "encoding": {"x": {"datum": 1.28, "type": "quantitative"}, "y": {"datum": 1.98, "type": "quantitative"}, "text": {"field": "r"}}},
  {"data": {"name": "ann"}, "transform": [{"filter": "datum.p === 'E' && datum.k === 1"}], "mark": {"type": "text", "font": "Liberation Sans", "fontSize": 13, "align": "left", "baseline": "middle", "color": "#000000", "fontStyle": "italic"}, "encoding": {"x": {"datum": 1.28, "type": "quantitative"}, "y": {"datum": 1.70, "type": "quantitative"}, "text": {"field": "lab"}}},
  {"data": {"name": "ann"}, "transform": [{"filter": "datum.p === 'E' && datum.k === 1"}], "mark": {"type": "text", "font": "Liberation Sans", "fontSize": 13, "align": "left", "baseline": "middle", "color": "#000000", "dx": 85.3}, "encoding": {"x": {"datum": 1.28, "type": "quantitative"}, "y": {"datum": 1.70, "type": "quantitative"}, "text": {"field": "r"}}},
  {"data": {"name": "ann"}, "transform": [{"filter": "datum.p === 'E' && datum.k === 2"}], "mark": {"type": "text", "font": "Liberation Sans", "fontSize": 13, "align": "left", "baseline": "middle", "color": "#000000", "fontStyle": "italic"}, "encoding": {"x": {"datum": 1.28, "type": "quantitative"}, "y": {"datum": 1.43, "type": "quantitative"}, "text": {"field": "lab"}}},
  {"data": {"name": "ann"}, "transform": [{"filter": "datum.p === 'E' && datum.k === 2"}], "mark": {"type": "text", "font": "Liberation Sans", "fontSize": 13, "align": "left", "baseline": "middle", "color": "#000000", "dx": 82.7}, "encoding": {"x": {"datum": 1.28, "type": "quantitative"}, "y": {"datum": 1.43, "type": "quantitative"}, "text": {"field": "r"}}},
  {"data": {"name": "ann"}, "transform": [{"filter": "datum.p === 'E' && datum.k === 3"}], "mark": {"type": "text", "font": "Liberation Sans", "fontSize": 13, "align": "left", "baseline": "middle", "color": "#000000", "fontStyle": "italic"}, "encoding": {"x": {"datum": 1.28, "type": "quantitative"}, "y": {"datum": 1.18, "type": "quantitative"}, "text": {"field": "lab"}}},
  {"data": {"name": "ann"}, "transform": [{"filter": "datum.p === 'E' && datum.k === 3"}], "mark": {"type": "text", "font": "Liberation Sans", "fontSize": 13, "align": "left", "baseline": "middle", "color": "#000000", "dx": 79.8}, "encoding": {"x": {"datum": 1.28, "type": "quantitative"}, "y": {"datum": 1.18, "type": "quantitative"}, "text": {"field": "r"}}}
 ]},
{"width": 293, "height": 170, "title": {"text": "F", "offset": 12},
 "layer": [
  {"data": {"name": "pts"}, "transform": [{"filter": "datum.p === 'F'"}], "mark": {"type": "point", "filled": true, "opacity": 1, "size": 52, "strokeWidth": 0},
   "encoding": {"x": {"field": "x", "type": "quantitative", "scale": {"domain": [-0.05, 3.24], "nice": false, "zero": false}, "axis": {"values": [0,1,2,3], "format": "d", "labelOverlap": false, "title": "Total Biomass (g)"}},
    "y": {"field": "y", "type": "quantitative", "scale": {"domain": [-1.1, 4.83], "nice": false, "zero": false}, "axis": {"tickCount": 6, "format": "d", "labelOverlap": false, "labelSeparation": 0, "labelBound": false, "title": "Porewater PO₄³⁻ (mg L⁻¹)", "titlePadding": 18}},
    "color": {"field": "s", "type": "nominal", "legend": {"orient": "none", "legendX": 128, "legendY": -27, "direction": "horizontal", "title": "Species", "titleOrient": "left", "titleFontSize": 17, "titleFontWeight": "bold", "titleColor": "#000000", "titlePadding": 14, "labelFontSize": 14.5, "labelFontStyle": "italic", "labelColor": "#000000", "symbolSize": 50, "labelOffset": 8, "columnPadding": 10, "symbolStrokeWidth": 0}},
    "shape": {"field": "s", "type": "nominal", "legend": {"orient": "none", "legendX": 128, "legendY": -27, "direction": "horizontal", "title": "Species", "titleOrient": "left", "titleFontSize": 17, "titleFontWeight": "bold", "titleColor": "#000000", "titlePadding": 14, "labelFontSize": 14.5, "labelFontStyle": "italic", "labelColor": "#000000", "symbolSize": 50, "labelOffset": 8, "columnPadding": 10, "symbolStrokeWidth": 0}}}},
  {"data": {"name": "fit"}, "transform": [{"filter": "datum.p === 'F'"}], "mark": {"type": "line", "strokeWidth": 2.2},
   "encoding": {"x": {"field": "x", "type": "quantitative"}, "y": {"field": "y", "type": "quantitative"}, "color": {"field": "s", "type": "nominal", "legend": null}, "strokeDash": {"field": "s", "type": "nominal", "legend": null}}},
  {"data": {"name": "ann"}, "transform": [{"filter": "datum.p === 'F' && datum.k === 0"}], "mark": {"type": "text", "font": "Liberation Sans", "fontSize": 13, "align": "left", "baseline": "middle", "color": "#000000"}, "encoding": {"x": {"datum": 1.42, "type": "quantitative"}, "y": {"datum": 3.88, "type": "quantitative"}, "text": {"field": "lab"}}},
  {"data": {"name": "ann"}, "transform": [{"filter": "datum.p === 'F' && datum.k === 0"}], "mark": {"type": "text", "font": "Liberation Sans", "fontSize": 13, "align": "left", "baseline": "middle", "color": "#000000", "fontStyle": "italic", "dx": 69.4}, "encoding": {"x": {"datum": 1.42, "type": "quantitative"}, "y": {"datum": 3.88, "type": "quantitative"}, "text": {"value": "r ="}}},
  {"data": {"name": "ann"}, "transform": [{"filter": "datum.p === 'F' && datum.k === 0"}], "mark": {"type": "text", "font": "Liberation Sans", "fontSize": 13, "align": "left", "baseline": "middle", "color": "#000000", "dx": 88.5}, "encoding": {"x": {"datum": 1.42, "type": "quantitative"}, "y": {"datum": 3.88, "type": "quantitative"}, "text": {"field": "r"}}},
  {"data": {"name": "ann"}, "transform": [{"filter": "datum.p === 'F' && datum.k === 1"}], "mark": {"type": "text", "font": "Liberation Sans", "fontSize": 13, "align": "left", "baseline": "middle", "color": "#000000", "fontStyle": "italic"}, "encoding": {"x": {"datum": 1.42, "type": "quantitative"}, "y": {"datum": 3.36, "type": "quantitative"}, "text": {"field": "lab"}}},
  {"data": {"name": "ann"}, "transform": [{"filter": "datum.p === 'F' && datum.k === 1"}], "mark": {"type": "text", "font": "Liberation Sans", "fontSize": 13, "align": "left", "baseline": "middle", "color": "#000000", "dx": 85.3}, "encoding": {"x": {"datum": 1.42, "type": "quantitative"}, "y": {"datum": 3.36, "type": "quantitative"}, "text": {"field": "r"}}},
  {"data": {"name": "ann"}, "transform": [{"filter": "datum.p === 'F' && datum.k === 2"}], "mark": {"type": "text", "font": "Liberation Sans", "fontSize": 13, "align": "left", "baseline": "middle", "color": "#000000", "fontStyle": "italic"}, "encoding": {"x": {"datum": 1.42, "type": "quantitative"}, "y": {"datum": 2.84, "type": "quantitative"}, "text": {"field": "lab"}}},
  {"data": {"name": "ann"}, "transform": [{"filter": "datum.p === 'F' && datum.k === 2"}], "mark": {"type": "text", "font": "Liberation Sans", "fontSize": 13, "align": "left", "baseline": "middle", "color": "#000000", "dx": 82.7}, "encoding": {"x": {"datum": 1.42, "type": "quantitative"}, "y": {"datum": 2.84, "type": "quantitative"}, "text": {"field": "r"}}},
  {"data": {"name": "ann"}, "transform": [{"filter": "datum.p === 'F' && datum.k === 3"}], "mark": {"type": "text", "font": "Liberation Sans", "fontSize": 13, "align": "left", "baseline": "middle", "color": "#000000", "fontStyle": "italic"}, "encoding": {"x": {"datum": 1.42, "type": "quantitative"}, "y": {"datum": 2.29, "type": "quantitative"}, "text": {"field": "lab"}}},
  {"data": {"name": "ann"}, "transform": [{"filter": "datum.p === 'F' && datum.k === 3"}], "mark": {"type": "text", "font": "Liberation Sans", "fontSize": 13, "align": "left", "baseline": "middle", "color": "#000000", "dx": 79.8}, "encoding": {"x": {"datum": 1.42, "type": "quantitative"}, "y": {"datum": 2.29, "type": "quantitative"}, "text": {"field": "r"}}}
 ]}
], "spacing": 12}
], "spacing": -7}
],
"spacing": 11
}
